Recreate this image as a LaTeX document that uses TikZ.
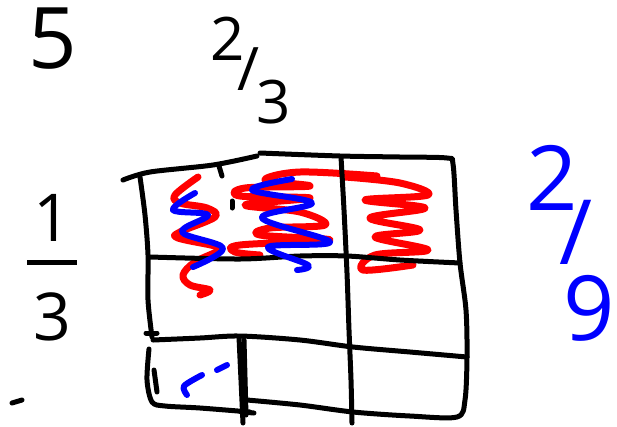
\documentclass[tikz,border=0pt]{standalone}
\usepackage{fontspec}
\setmainfont{Open Sans}
\usetikzlibrary{positioning}
\definecolor{penred}{RGB}{255,0,0}
\definecolor{penblue}{RGB}{0,0,255}
\tikzset{
  ink/.style={line width=5pt, line cap=round, line join=round},
  redpen/.style={ink, draw=penred, line width=7pt},
  bluepen/.style={ink, draw=penblue, line width=6pt},
  hand/.style={inner sep=0pt, font=\fontsize{#1}{#1}\selectfont},
}

\begin{document}
\begin{tikzpicture}[x=1pt, y=-1pt]
    \useasboundingbox (0,0) rectangle (617,426);
    % red shading first, grid over it
    \draw[redpen] plot[smooth, tension=.6] coordinates {(198,177) (175,195) (180,203) (207,208) (215,217) (180,232) (178,238) (215,246) (220,250) (195,262) (183,275) (190,285) (210,290) (200,295)};
    \draw[redpen] plot[smooth, tension=.6] coordinates {(377,176) (300,172) (265,180) (310,186) (245,188) (240,196) (310,198) (245,205) (300,212) (325,225) (270,228) (260,235) (330,240) (240,245) (235,252) (260,255)};
    \draw[redpen] plot[smooth, tension=.6] coordinates {(345,177) (400,183) (428,195) (365,200) (425,208) (370,218) (420,230) (375,237) (428,250) (375,255) (363,270) (413,265)};
    % grid
    \draw[ink] plot[smooth] coordinates {(123,180) (150,172) (213,165) (257,156)};
    \draw[ink] plot[smooth] coordinates {(260,153) (340,156) (400,157) (447,158) (453,164) (456,210) (460,263) (466,310) (467,357) (465,400) (457,417) (410,416) (353,412) (300,405) (247,400)};
    \draw[ink] plot[smooth] coordinates {(140,177) (145,215) (148,255) (148,300) (152,337)};
    \draw[ink] (146,333) -- (157,333);
    \draw[ink] plot[smooth] coordinates {(150,257) (240,259) (300,256) (347,256) (400,260) (460,263)};
    \draw[ink] plot[smooth] coordinates {(341,157) (344,210) (347,273) (349,330) (351,380) (352,423)};
    \draw[ink] plot[smooth] coordinates {(153,340) (200,338) (240,336) (300,340) (353,347) (410,352) (467,357)};
    \draw[ink] plot[smooth] coordinates {(149,349) (147,380) (152,402) (165,406) (200,408) (250,412)};
    \draw[ink] (239,337) -- (243,423);
    \draw[ink] (244,340) -- (246,415);
    \draw[ink] (241,412) -- (254,413);
    \draw[ink] (154,370) -- (157,392);
    \draw[ink] (219,166) -- (222,176);
    \draw[ink] (232,201) -- (232,208);
    % blue over red
    \draw[bluepen] plot[smooth, tension=.6] coordinates {(195,193) (173,210) (208,215) (182,232) (223,248) (193,267)};
    \draw[bluepen] plot[smooth, tension=.6] coordinates {(292,179) (252,190) (312,203) (262,218) (330,242) (268,247) (308,265) (297,270)};
    \draw[bluepen] plot[smooth] coordinates {(187,395) (184,386) (202,375)};
    \draw[bluepen] (217,370) -- (227,365);
    % the fractions
    \node[hand=85, anchor=base west] (five) at (28,68) {5};
    \node[hand=60, anchor=base west] (twothirds) at (210,60)
      {2\kern-.12em\raisebox{-.5em}{/}\kern-.05em\raisebox{-1.05em}{3}};
    \node[hand=66, align=center] (onethird) at (52,268)
      {1\\[-.4em]\rule[.25em]{.75em}{.07em}\\[-.1em]3};
    \node[hand=90, anchor=base west, text=penblue] (twoninths) at (526,210)
      {2\kern-.2em\raisebox{-.6em}{/}\kern-.32em\raisebox{-1.45em}{9}};
    \draw[ink] (12,403) -- (22,400);
\end{tikzpicture}
\end{document}
